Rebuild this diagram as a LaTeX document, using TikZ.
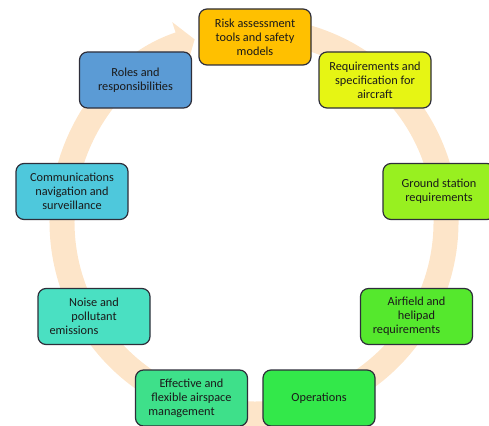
\documentclass[tikz,border=0pt]{standalone}
\usepackage{fontspec}
\setmainfont{Carlito}
\usetikzlibrary{arrows.meta}
\definecolor{ringc}{HTML}{FDE5C9}
\definecolor{edgec}{HTML}{2E2E3A}
\definecolor{txtc}{HTML}{1A1A1A}
\definecolor{cRisk}{HTML}{FFC000}
\definecolor{cReq}{HTML}{E6F514}
\definecolor{cGround}{HTML}{98F020}
\definecolor{cAir}{HTML}{55E82D}
\definecolor{cOps}{HTML}{33E84A}
\definecolor{cEff}{HTML}{3EE08A}
\definecolor{cNoise}{HTML}{4AE0C2}
\definecolor{cComm}{HTML}{4EC8DC}
\definecolor{cRoles}{HTML}{5B9BD5}
\tikzset{
  stepbox/.style={draw=edgec, line width=1.2pt, rounded corners=8pt,
    minimum width=112pt, minimum height=56pt, align=center, text=txtc,
    inner sep=2pt, font=\fontsize{12.3}{14}\selectfont},
  ring/.style={draw=ringc, line width=25pt}
}
\begin{document}
\begin{tikzpicture}[x=1pt,y=-1pt]
\useasboundingbox (0,0) rectangle (489,425);
\draw[ring, -{Triangle[width=46pt,length=16pt]}] (254,222) ++(-95:192) arc[start angle=-95, end angle=252, radius=192];
\node[stepbox, fill=cRisk] (risk) at (255,37) {Risk assessment\\tools and safety\\models};
\node[stepbox, fill=cReq] (req) at (375,80) {Requirements and\\specification for\\aircraft};
\node[stepbox, fill=cGround] (ground) at (439,191.5) {Ground station\\requirements};
\node[stepbox, fill=cAir] (air) at (416.5,316.5) {Airfield and\\helipad\\requirements\hspace*{20pt}};
\node[stepbox, fill=cOps] (ops) at (319,398) {Operations};
\node[stepbox, fill=cEff] (eff) at (191.5,398) {Effective and\\flexible airspace\\management\hspace*{20pt}};
\node[stepbox, fill=cNoise] (noise) at (94,316.5) {Noise and\\pollutant\\emissions\hspace*{40pt}};
\node[stepbox, fill=cComm] (comm) at (72,191.5) {Communications\\navigation and\\surveillance};
\node[stepbox, fill=cRoles] (roles) at (135.5,80) {Roles and\\responsibilities};
\end{tikzpicture}
\end{document}
